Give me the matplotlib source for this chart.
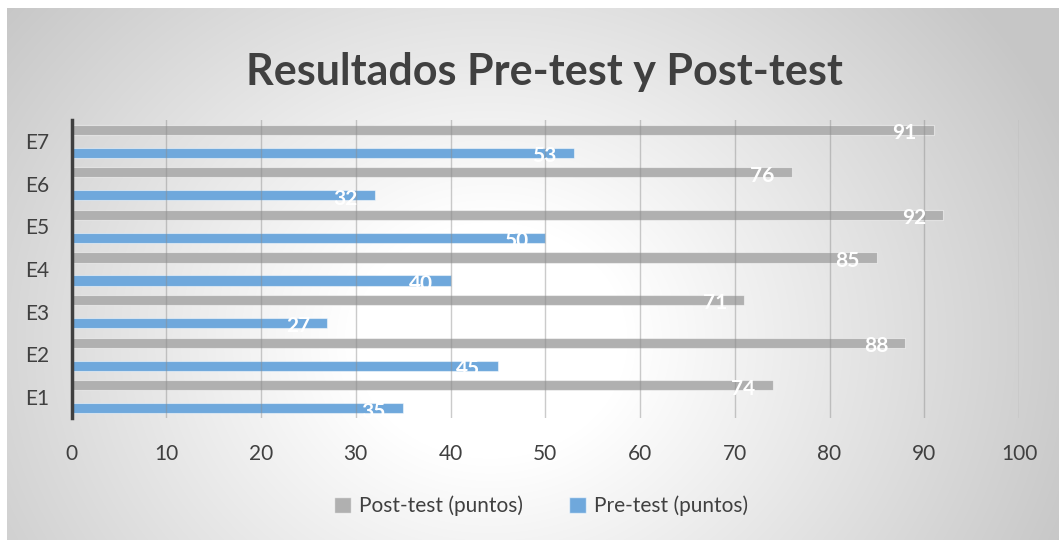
import numpy as np
import matplotlib
matplotlib.use("Agg")
from matplotlib import pyplot as plt
from matplotlib.patches import Patch

plt.rcParams['font.family'] = ['Lato', 'DejaVu Sans']

categories = ['E1', 'E2', 'E3', 'E4', 'E5', 'E6', 'E7']
post_test = [74, 88, 71, 85, 92, 76, 91]
pre_test = [35, 45, 27, 40, 50, 32, 53]
x_ticks = [0, 10, 20, 30, 40, 50, 60, 70, 80, 90, 100]

gray = '#b0b0b0'
blue = '#6fa8dc'
text_col = '#404040'

W, H = 1059, 540
fig = plt.figure(figsize=(W / 100, H / 100), dpi=100, facecolor='white')

# radial gradient background of the chart area
bg = fig.add_axes([7 / W, 0, 1 - 7 / W, 1 - 8 / H], zorder=-10)
yy, xx = np.mgrid[0:H - 8, 0:W - 7]
d = np.hypot((xx + 7 - 490) * 0.95, (yy + 8 - 340) * 1.1)
t = np.clip((d - 130) / 460, 0, 1)
shade = 1 - t * 0.22
bg.imshow(np.dstack([shade] * 3), aspect='auto', interpolation='bilinear')
bg.set_axis_off()

ax = fig.add_axes([71.5 / W, 1 - 418 / H, (1019 - 71.5) / W, (418 - 120) / H])
ax.patch.set_alpha(0)

y = np.arange(len(categories))
off = 0.27
h = 0.24
ax.barh(y + off, post_test, h, color=gray, edgecolor=(1, 1, 1, 0.5), linewidth=0.8,
        label='Post-test (puntos)', zorder=2)
ax.barh(y - off, pre_test, h, color=blue, edgecolor=(1, 1, 1, 0.5), linewidth=0.8,
        label='Pre-test (puntos)', zorder=2)

for yi, v in zip(y + off, post_test):
    ax.text(v - 3.1, yi - 0.08, str(v), color='white', fontsize=15, fontweight='bold',
            ha='center', va='center', zorder=4)
for yi, v in zip(y - off, pre_test):
    ax.text(v - 3.1, yi - 0.08, str(v), color='white', fontsize=15, fontweight='bold',
            ha='center', va='center', zorder=4)

ax.set_xlim(0, 100)
ax.set_ylim(-0.5, 6.5)
ax.set_xticks(x_ticks)
ax.set_yticks(y)
ax.set_yticklabels(categories)
ax.tick_params(axis='both', length=0, labelsize=15, labelcolor=text_col)
ax.tick_params(axis='x', pad=19)
ax.tick_params(axis='y', pad=25)
for lab in ax.get_yticklabels():
    lab.set_horizontalalignment('center')

for xv in x_ticks[1:]:
    ax.axvline(xv, color='#8c8c8c', alpha=0.45, linewidth=1, zorder=3)

for s in ['top', 'right', 'bottom']:
    ax.spines[s].set_visible(False)
ax.spines['left'].set_color(text_col)
ax.spines['left'].set_linewidth(2.5)
ax.spines['left'].set_zorder(5)

fig.text(544 / W, 1 - 72 / H, 'Resultados Pre-test y Post-test', fontsize=31,
         fontweight='bold', color=text_col, ha='center', va='center')

handles = [Patch(facecolor=gray, edgecolor=(1, 1, 1, 0.6)),
           Patch(facecolor=blue, edgecolor=(1, 1, 1, 0.6))]
fig.legend(handles, ['Post-test (puntos)', 'Pre-test (puntos)'], loc='center',
           bbox_to_anchor=(541 / W, 1 - 506 / H), ncol=2, frameon=False,
           fontsize=15, labelcolor=text_col, handlelength=0.8, handleheight=0.8,
           handletextpad=0.4, columnspacing=2.2)

fig.savefig('out.png', dpi=100, facecolor='white')
